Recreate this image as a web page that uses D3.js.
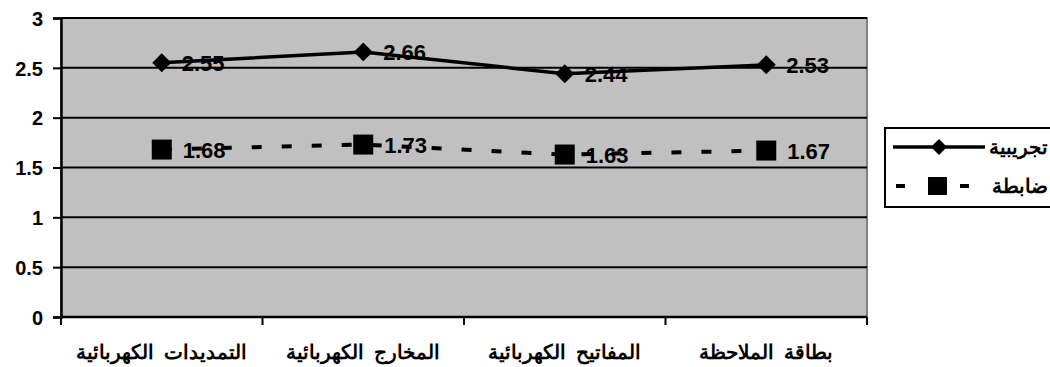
<!DOCTYPE html>
<html lang="ar">
<head>
<meta charset="utf-8">
<script src="https://cdn.jsdelivr.net/npm/d3@7"></script>
<style>
  html, body { margin: 0; padding: 0; background: #fff; }
  svg { display: block; font-family: "Liberation Sans", Arial, sans-serif; }
</style>
</head>
<body>
<svg id="chart" width="1050" height="367"></svg>
<script>
// Skill areas along the x axis (left to right)
const categories = [
  "التمديدات الكهربائية",
  "المخارج الكهربائية",
  "المفاتيح الكهربائية",
  "بطاقة الملاحظة"
];
// Mean scores per group
const experimental = [2.55, 2.66, 2.44, 2.53];   // تجريبية
const control = [1.68, 1.73, 1.63, 1.67];        // ضابطة
const seriesNames = ["تجريبية", "ضابطة"];
const yTicks = [0, 0.5, 1, 1.5, 2, 2.5, 3];

const FONT = "'Liberation Sans', Arial, sans-serif";
const svg = d3.select("#chart");
const plot = { left: 61, right: 867, top: 18, bottom: 317 };

const x = d3.scaleBand().domain(categories).range([plot.left, plot.right]).padding(0);
const y = d3.scaleLinear().domain([0, 3]).range([plot.bottom, plot.top]);
const cx = d => x(d) + x.bandwidth() / 2;

// Plot background
svg.append("rect")
  .attr("x", plot.left).attr("y", plot.top)
  .attr("width", plot.right - plot.left).attr("height", plot.bottom - plot.top)
  .attr("fill", "#c0c0c0")
  .attr("stroke", "#808080").attr("stroke-width", 2);

// Horizontal gridlines
svg.append("g").selectAll("line")
  .data(yTicks.filter(t => t > 0))
  .join("line")
  .attr("x1", plot.left).attr("x2", plot.right)
  .attr("y1", d => y(d)).attr("y2", d => y(d))
  .attr("stroke", "#000").attr("stroke-width", 2);

// Y axis
const yAxis = svg.append("g")
  .attr("transform", `translate(${plot.left},0)`)
  .call(d3.axisLeft(y).tickValues(yTicks).tickSize(8).tickPadding(10).tickFormat(d3.format("")));
yAxis.select(".domain").attr("stroke", "#000").attr("stroke-width", 2.5);
yAxis.selectAll(".tick line").attr("stroke", "#000").attr("stroke-width", 2);
yAxis.selectAll(".tick text")
  .attr("fill", "#000").attr("dy", "0.36em")
  .style("font-size", "20px").style("font-weight", "bold")
  .style("font-family", FONT);

// X axis with ticks at category boundaries
const bounds = categories.map(c => x(c)).concat([plot.right]);
const xAxis = svg.append("g");
xAxis.append("line")
  .attr("x1", plot.left).attr("x2", plot.right)
  .attr("y1", plot.bottom).attr("y2", plot.bottom)
  .attr("stroke", "#000").attr("stroke-width", 2.5);
xAxis.selectAll("line.tick")
  .data(bounds)
  .join("line")
  .attr("class", "tick")
  .attr("x1", d => d).attr("x2", d => d)
  .attr("y1", plot.bottom).attr("y2", plot.bottom + 8)
  .attr("stroke", "#000").attr("stroke-width", 2);
xAxis.selectAll("text")
  .data(categories)
  .join("text")
  .attr("x", d => cx(d)).attr("y", 359)
  .attr("text-anchor", "middle")
  .style("font-size", "20px").style("font-weight", "bold")
  .style("word-spacing", "4px")
  .text(d => d);

const line = d3.line().x(d => cx(d.c)).y(d => y(d.v));
const expData = categories.map((c, i) => ({ c, v: experimental[i] }));
const ctlData = categories.map((c, i) => ({ c, v: control[i] }));

// Control group: dashed line with square markers
svg.append("path")
  .datum(ctlData)
  .attr("d", line)
  .attr("fill", "none").attr("stroke", "#000")
  .attr("stroke-width", 4).attr("stroke-dasharray", "10,20");
svg.append("g").selectAll("rect")
  .data(ctlData)
  .join("rect")
  .attr("x", d => cx(d.c) - 10).attr("y", d => y(d.v) - 10)
  .attr("width", 20).attr("height", 20)
  .attr("fill", "#000");

// Experimental group: solid line with diamond markers
svg.append("path")
  .datum(expData)
  .attr("d", line)
  .attr("fill", "none").attr("stroke", "#000").attr("stroke-width", 3.5);
svg.append("g").selectAll("path")
  .data(expData)
  .join("path")
  .attr("d", d3.symbol().type(d3.symbolSquare).size(180))
  .attr("transform", d => `translate(${cx(d.c)},${y(d.v)}) rotate(45)`)
  .attr("fill", "#000");

// Value labels
const labelGroup = svg.append("g")
  .style("font-size", "22px").style("font-weight", "bold").attr("fill", "#000");
labelGroup.selectAll("text.exp")
  .data(expData)
  .join("text")
  .attr("class", "exp")
  .attr("x", d => cx(d.c) + 20).attr("y", d => y(d.v) + 8)
  .text(d => d.v.toFixed(2));
labelGroup.selectAll("text.ctl")
  .data(ctlData)
  .join("text")
  .attr("class", "ctl")
  .attr("x", d => cx(d.c) + 21).attr("y", d => y(d.v) + 8)
  .text(d => d.v.toFixed(2));

// Legend
const legend = svg.append("g");
legend.append("rect")
  .attr("x", 885).attr("y", 128).attr("width", 175).attr("height", 79)
  .attr("fill", "#fff").attr("stroke", "#000").attr("stroke-width", 2);
const rows = [
  { name: seriesNames[0], yy: 147, kind: "solid" },
  { name: seriesNames[1], yy: 186, kind: "dash" }
];
rows.forEach(r => {
  if (r.kind === "solid") {
    legend.append("line")
      .attr("x1", 893).attr("x2", 985).attr("y1", r.yy).attr("y2", r.yy)
      .attr("stroke", "#000").attr("stroke-width", 3.5);
    legend.append("path")
      .attr("d", d3.symbol().type(d3.symbolSquare).size(130))
      .attr("transform", `translate(939,${r.yy}) rotate(45)`)
      .attr("fill", "#000");
  } else {
    legend.append("line")
      .attr("x1", 896).attr("x2", 970).attr("y1", r.yy).attr("y2", r.yy)
      .attr("stroke", "#000").attr("stroke-width", 4).attr("stroke-dasharray", "9,23");
    legend.append("rect")
      .attr("x", 928).attr("y", r.yy - 9).attr("width", 19).attr("height", 18)
      .attr("fill", "#000");
  }
  legend.append("text")
    .attr("x", 1048).attr("y", r.yy + 7)
    .attr("text-anchor", "end")
    .style("font-size", "20px").style("font-weight", "bold")
    .text(r.name);
});
</script>
</body>
</html>
